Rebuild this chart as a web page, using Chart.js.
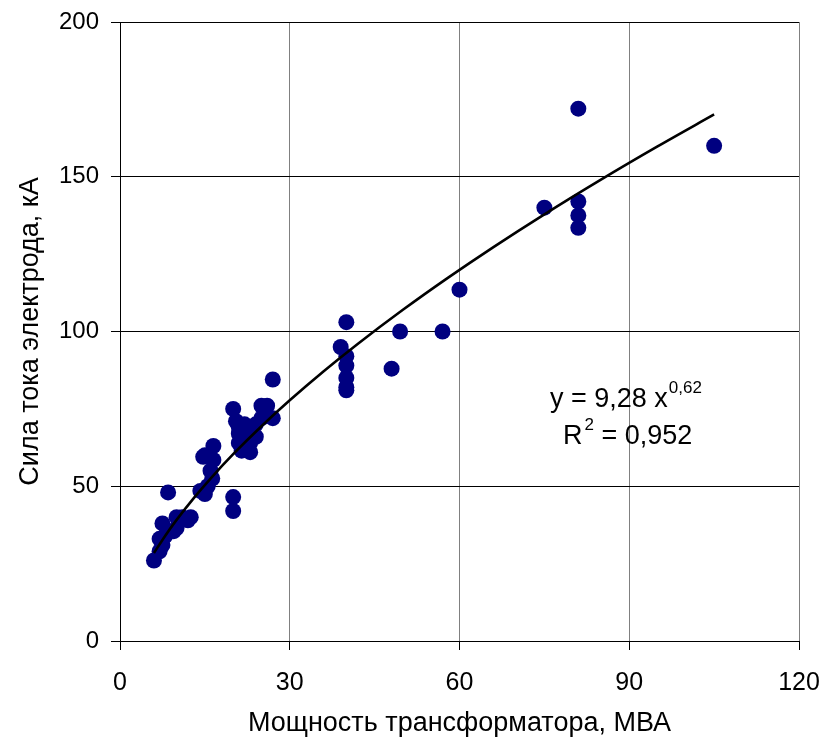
<!DOCTYPE html>
<html>
<head>
<meta charset="utf-8">
<script src="https://cdn.jsdelivr.net/npm/chart.js@4/dist/chart.umd.min.js"></script>
<style>
html,body{margin:0;padding:0;background:#fff;}
#wrap{width:825px;height:740px;}
</style>
</head>
<body>
<div id="wrap"><canvas id="c" width="825" height="740"></canvas></div>
<script>
// Measured data: transformer power (MVA) and electrode current (kA)
const powerMVA = [
  6, 7, 7.5, 7, 8, 9.5, 10, 7.5, 8.5, 10, 11, 12, 12.5,
  14.2, 15, 15, 15.5, 16, 16.3, 16.5, 16.5, 14.7,
  20, 20, 20, 20.5, 21, 21, 21, 21.5, 22, 22, 22, 23, 23, 23, 24, 24, 25, 25, 26, 27, 27,
  39, 40, 40, 40, 40, 40, 40, 48, 49.5, 57, 60,
  75, 81, 81, 81, 81, 105
];
const currentKA = [
  26, 29, 31, 33, 34, 35.5, 36.5, 38, 48, 40, 40, 39, 40,
  48.5, 47.5, 60, 50, 55, 52.5, 63, 58.5, 59.5,
  46.5, 42, 75, 71, 69, 67, 64, 61.5, 70, 66, 62, 68, 64, 61, 70, 66, 76, 72, 76, 72, 84.5,
  95, 103, 92, 89, 85, 82, 81, 88, 100, 100, 113.5,
  140, 172, 142, 137.5, 133.5, 160
];
const trendA = 9.28;
const trendB = 0.625;
const trendXs = [6, 8, 10, 13, 16, 20, 25, 30, 36, 42, 50, 58, 66, 75, 85, 95, 105];
const xTicks = [0, 30, 60, 90, 120];
const yTicks = [0, 50, 100, 150, 200];
const xTitle = 'Мощность трансформатора, МВА';
const yTitle = 'Сила тока электрода, кА';
const eqText = 'y = 9,28 x';
const eqExp = '0,62';
const r2Text = ' = 0,952';

const scatterData = powerMVA.map((x, i) => ({x: x, y: currentKA[i]}));
const trendData = trendXs.map(x => ({x: x, y: trendA * Math.pow(x, trendB)}));

const regular = "'Liberation Sans', Arial, sans-serif";

const annot = {
  id: 'annot',
  afterDatasetsDraw(chart) {
    const ctx = chart.ctx;
    const xs = chart.scales.x, ys = chart.scales.y;
    ctx.save();
    ctx.fillStyle = '#000';
    ctx.textBaseline = 'alphabetic';
    ctx.textAlign = 'left';
    // equation line
    let px = xs.getPixelForValue(76.0), py = ys.getPixelForValue(75.6);
    ctx.font = '27px ' + regular;
    ctx.fillText(eqText, px, py);
    let w = ctx.measureText(eqText).width;
    ctx.font = '17px ' + regular;
    ctx.fillText(eqExp, px + w + 1, py - 14);
    // R^2 line
    px = xs.getPixelForValue(78.3); py = ys.getPixelForValue(63.65);
    ctx.font = '27px ' + regular;
    ctx.fillText('R', px, py);
    let wr = ctx.measureText('R').width;
    ctx.font = '17px ' + regular;
    ctx.fillText('2', px + wr + 2, py - 14);
    let w2 = ctx.measureText('2').width;
    ctx.font = '27px ' + regular;
    ctx.fillText(r2Text, px + wr + 2 + w2, py);
    ctx.restore();
  }
};

new Chart(document.getElementById('c'), {
  type: 'scatter',
  data: {
    datasets: [
      {
        label: 'data',
        data: scatterData,
        backgroundColor: '#000080',
        borderWidth: 0,
        pointRadius: 8,
        pointHoverRadius: 8,
        order: 2
      },
      {
        label: 'trend',
        type: 'line',
        data: trendData,
        borderColor: '#000',
        borderWidth: 2.6,
        pointRadius: 0,
        cubicInterpolationMode: 'monotone',
        fill: false,
        order: 1
      }
    ]
  },
  options: {
    responsive: false,
    animation: false,
    events: [],
    layout: {padding: {left: 0, right: 26, top: 22, bottom: 0}},
    plugins: {legend: {display: false}, tooltip: {enabled: false}},
    scales: {
      x: {
        type: 'linear',
        min: 0, max: 120,
        afterBuildTicks: s => { s.ticks = xTicks.map(v => ({value: v})); },
        afterFit: s => { s.height = 99; s.paddingLeft = 0; s.paddingRight = 0; },
        grid: {color: '#808080', lineWidth: 1, tickLength: 9, tickColor: '#000', drawTicks: true},
        border: {color: '#000', width: 1},
        ticks: {color: '#000', font: {family: regular, size: 25}, padding: 18, maxRotation: 0},
        title: {display: true, text: xTitle, color: '#000', font: {family: regular, size: 27}, padding: {top: 0, bottom: 0}}
      },
      y: {
        type: 'linear',
        min: 0, max: 200,
        afterBuildTicks: s => { s.ticks = yTicks.map(v => ({value: v})); },
        afterFit: s => { s.width = 120; s.paddingTop = 0; s.paddingBottom = 0; },
        grid: {color: '#000', lineWidth: 1, tickLength: 9, tickColor: '#000', drawTicks: true},
        border: {color: '#000', width: 1},
        ticks: {color: '#000', font: {family: regular, size: 24}, padding: 12},
        title: {display: true, text: yTitle, color: '#000', font: {family: regular, size: 27}, padding: {top: 14, bottom: 0}}
      }
    }
  },
  plugins: [annot]
});
</script>
</body>
</html>
